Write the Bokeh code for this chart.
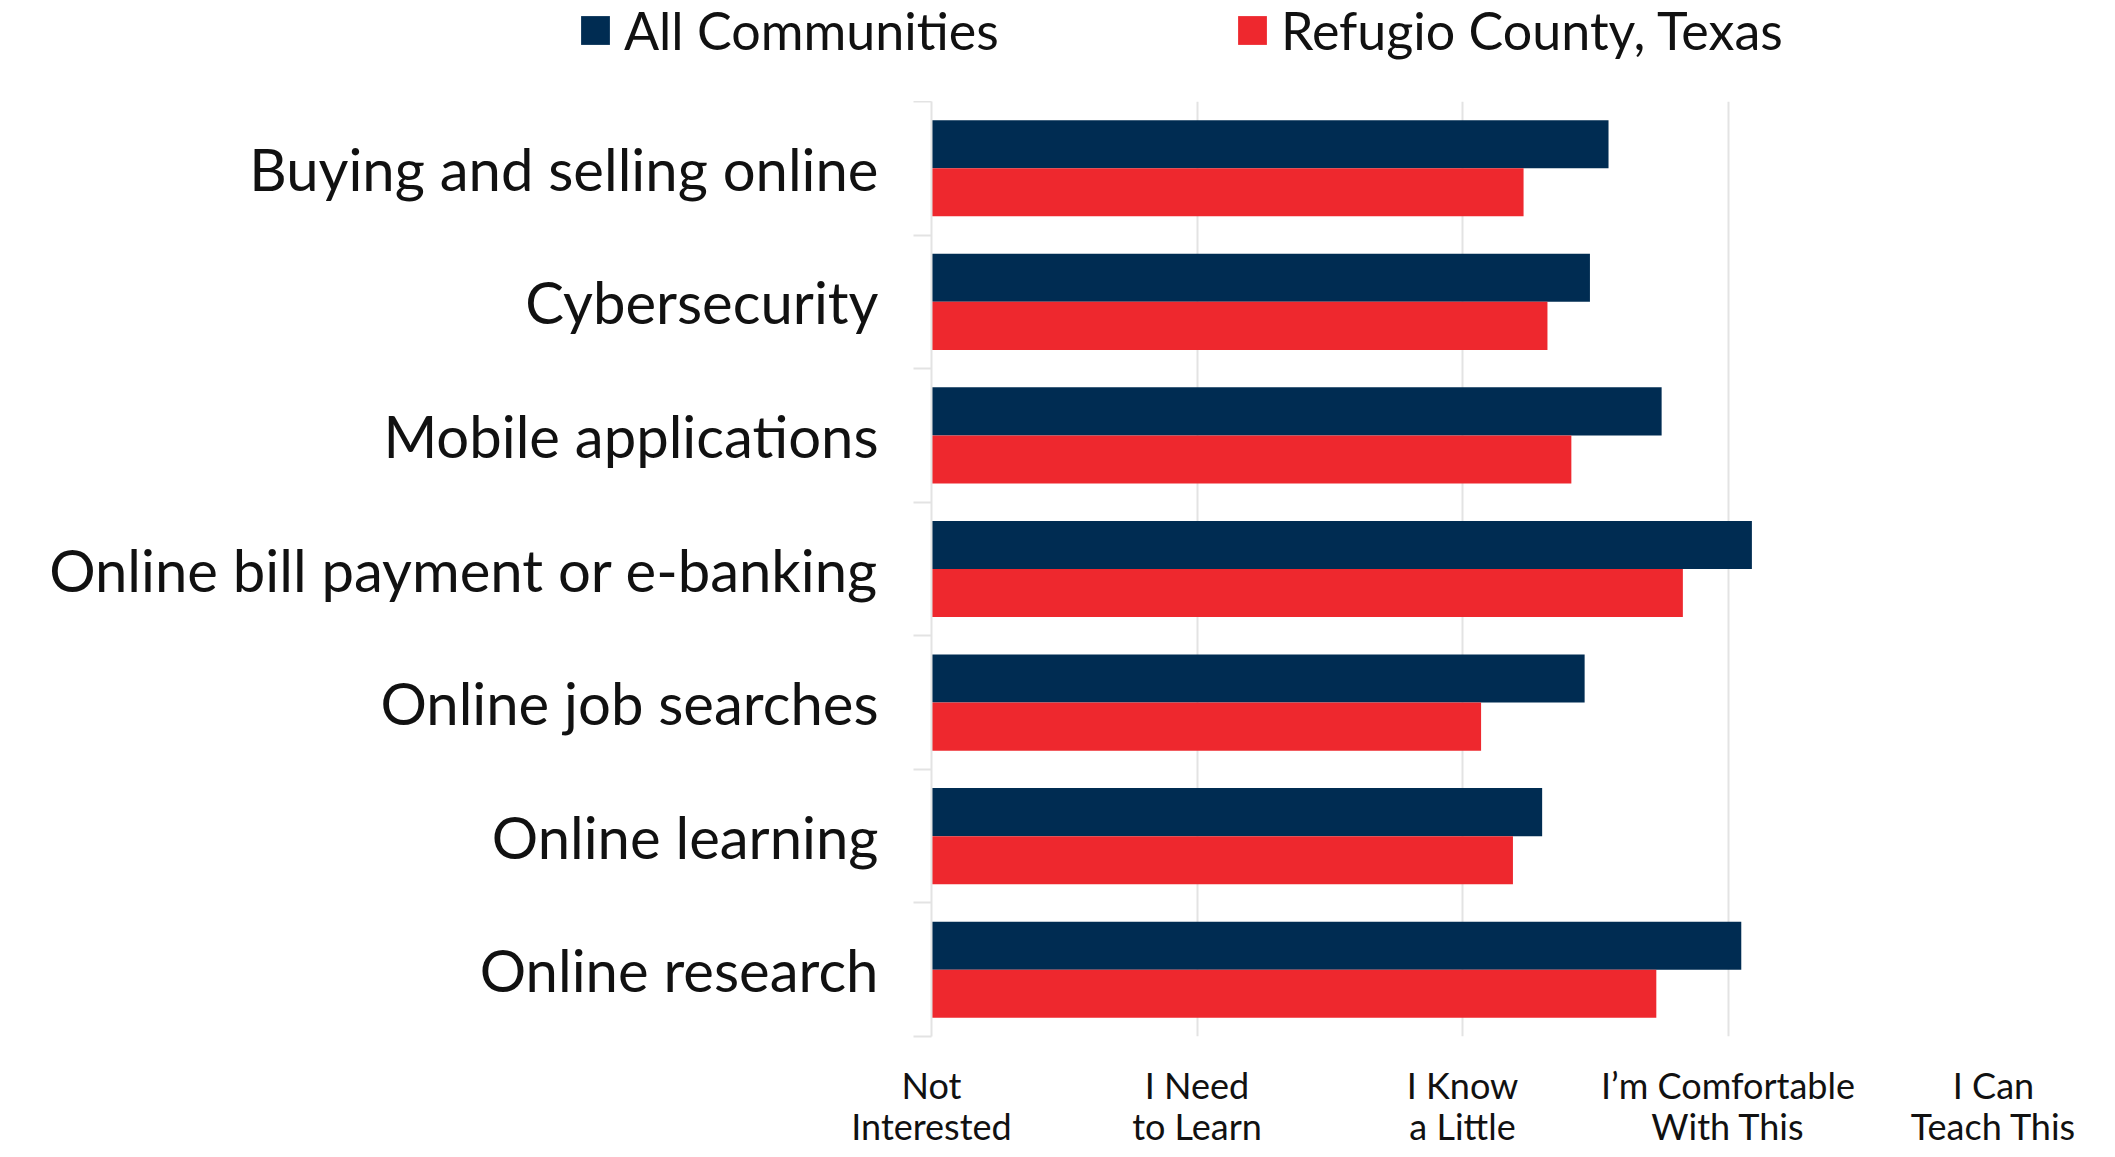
import numpy as np
from bokeh.plotting import figure
from bokeh.layouts import column
from bokeh.models import ColumnDataSource, Range1d, FixedTicker, Legend, LegendItem
from bokeh.transform import dodge
from bokeh.embed import file_html
from bokeh.resources import INLINE

# ---- data ----
categories = [
    "Buying and selling online",
    "Cybersecurity",
    "Mobile applications",
    "Online bill payment or e-banking",
    "Online job searches",
    "Online learning",
    "Online research",
]
all_communities = [3.55, 3.48, 3.75, 4.09, 3.46, 3.30, 4.05]
refugio_county = [3.23, 3.32, 3.41, 3.83, 3.07, 3.19, 3.73]
series_names = ["All Communities", "Refugio County, Texas"]
levels = [1, 2, 3, 4, 5]
level_labels = [
    "Not\nInterested",
    "I Need\nto Learn",
    "I Know\na Little",
    "I\u2019m Comfortable\nWith This",
    "I Can\nTeach This",
]

NAVY = "#002C52"
RED = "#EE282E"
GRID = "#E3E3E3"
FONT = "Lato"
TEXT = "#111111"

pos = list(np.arange(len(categories)) + 0.5)
source = ColumnDataSource(dict(cat=categories, pos=pos, all=all_communities, ref=refugio_county))

FULL_W = 2099
LEFT = 931
FRAME_W = 1062
TOP = 101
FRAME_H = 935
BOTTOM = 113

# ---- main chart ----
p = figure(
    frame_width=FRAME_W, frame_height=FRAME_H,
    min_border_left=LEFT, min_border_right=FULL_W - LEFT - FRAME_W,
    min_border_top=0, min_border_bottom=BOTTOM,
    x_range=Range1d(levels[0], levels[-1]), y_range=Range1d(len(categories), 0),
    output_backend="svg", toolbar_location=None, frame_align=False,
)
p.outline_line_color = None

r1 = p.hbar(y=dodge("pos", -0.18), left=levels[0], right="all", height=0.36,
            source=source, fill_color=NAVY, line_color=None)
r2 = p.hbar(y=dodge("pos", 0.18), left=levels[0], right="ref", height=0.36,
            source=source, fill_color=RED, line_color=None)

# x axis
p.xaxis.ticker = FixedTicker(ticks=levels)
p.xaxis.major_label_overrides = {lv: lab for lv, lab in zip(levels, level_labels)}
p.xaxis.axis_line_color = None
p.xaxis.major_tick_line_color = None
p.xaxis.minor_tick_line_color = None
p.xaxis.major_tick_out = 0
p.xaxis.minor_tick_out = 0
p.xaxis.major_label_text_font = FONT
p.xaxis.major_label_text_font_size = "36px"
p.xaxis.major_label_text_color = TEXT
p.xaxis.major_label_text_line_height = 0.95
p.xaxis.major_label_standoff = 26
p.xgrid.ticker = FixedTicker(ticks=levels)
p.xgrid.grid_line_color = GRID
p.xgrid.grid_line_width = 2

# y axis
p.yaxis.ticker = FixedTicker(ticks=pos, minor_ticks=list(range(len(categories) + 1)))
p.yaxis.major_label_overrides = {float(v): c for v, c in zip(pos, categories)}
p.yaxis.axis_line_color = GRID
p.yaxis.axis_line_width = 2
p.yaxis.major_tick_line_color = None
p.yaxis.major_tick_out = 0
p.yaxis.major_tick_in = 0
p.yaxis.minor_tick_line_color = GRID
p.yaxis.minor_tick_line_width = 2
p.yaxis.minor_tick_out = 18
p.yaxis.minor_tick_in = 0
p.yaxis.major_label_text_font = FONT
p.yaxis.major_label_text_font_size = "58px"
p.yaxis.major_label_text_color = TEXT
p.yaxis.major_label_standoff = 35
p.ygrid.grid_line_color = None

# ---- legend strip above the chart ----
lg = figure(
    width=FULL_W, height=TOP, min_border=0,
    min_border_left=0, min_border_right=0, min_border_top=0, min_border_bottom=0,
    x_range=Range1d(100, 200), y_range=Range1d(100, 200),
    x_axis_location=None, y_axis_location=None,
    output_backend="svg", toolbar_location=None, frame_align=False,
)
lg.outline_line_color = None
lg.grid.visible = False
l1 = lg.hbar(y="pos", left=levels[0], right="all", height=0.36, source=source,
             fill_color=NAVY, line_color=None)
l2 = lg.hbar(y="pos", left=levels[0], right="ref", height=0.36, source=source,
             fill_color=RED, line_color=None)

for rend, name, x in [(l1, series_names[0], 577), (l2, series_names[1], 1234)]:
    leg = Legend(
        items=[LegendItem(label=name, renderers=[rend])],
        location=(x, 40), orientation="horizontal",
        glyph_width=36, glyph_height=36, label_standoff=11,
        padding=0, margin=0, spacing=0,
        border_line_alpha=0, background_fill_alpha=0,
        label_text_font=FONT, label_text_font_size="52px", label_text_color=TEXT,
    )
    lg.add_layout(leg)

layout = column(lg, p, spacing=0)
open("out.html", "w").write(file_html(layout, INLINE))
